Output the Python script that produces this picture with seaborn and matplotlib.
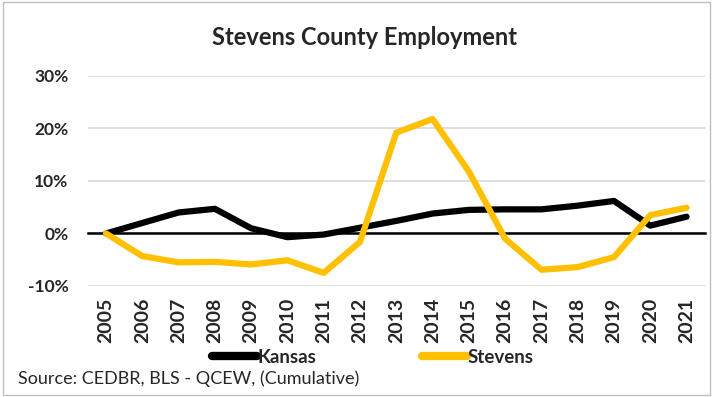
import pandas as pd
import matplotlib.pyplot as plt
import matplotlib.patches as patches
from matplotlib.ticker import MultipleLocator, FuncFormatter
import seaborn as sns

# Cumulative employment change (%)
years = list(range(2005, 2022))
kansas = [0.0, 2.0, 4.0, 4.7, 1.0, -0.7, -0.2, 1.1, 2.4, 3.8, 4.5, 4.6, 4.6, 5.3, 6.2, 1.5, 3.2]
stevens = [0.0, -4.3, -5.5, -5.4, -5.9, -5.1, -7.5, -1.6, 19.2, 21.8, 11.8, -1.0, -6.9, -6.4, -4.5, 3.5, 4.9]

df = pd.DataFrame({
    'Year': years * 2,
    'Change': kansas + stevens,
    'Area': ['Kansas'] * len(years) + ['Stevens'] * len(years),
})

sns.set_style('white')
plt.rcParams['font.family'] = ['Lato', 'DejaVu Sans']
BOLD = 'bold'

fig = plt.figure(figsize=(7.14, 3.97), dpi=100)
ax = fig.add_axes([0.123, 0.2796, 0.864, 0.529])

sns.lineplot(data=df, x='Year', y='Change', hue='Area',
             palette={'Kansas': '#000000', 'Stevens': '#FFC000'},
             linewidth=4.5, ax=ax, legend=False, zorder=3)

ax.set_xlim(years[0] - 0.5, years[-1] + 0.5)
ax.set_ylim(-10, 30)
ax.yaxis.set_major_locator(MultipleLocator(10))
ax.yaxis.set_major_formatter(FuncFormatter(lambda v, p: f'{v:.0f}%'))
ax.grid(axis='y', color='#d9d9d9', linewidth=1.2)
ax.set_axisbelow(True)

for s in ['top', 'right', 'left']:
    ax.spines[s].set_visible(False)
ax.spines['bottom'].set_position(('data', 0))
ax.spines['bottom'].set_color('black')
ax.spines['bottom'].set_linewidth(1.8)
ax.spines['bottom'].set_zorder(2)

ax.set_xticks(years)
ax.set_xticks([y - 0.5 for y in years] + [years[-1] + 0.5], minor=True)
ax.tick_params(axis='x', which='major', length=0, pad=46)
ax.tick_params(axis='x', which='minor', length=5, width=1.5, color='black', direction='out')
ax.tick_params(axis='y', length=0, pad=14)
ax.set_xticklabels([str(y) for y in years], rotation=90, fontweight=BOLD, fontsize=14)
for lbl in ax.get_yticklabels():
    lbl.set_fontweight(BOLD)
    lbl.set_fontsize(12.5)
ax.set_xlabel('')
ax.set_ylabel('')

fig.text(0.51, 0.905, 'Stevens County Employment', ha='center', va='center',
         fontsize=17, fontweight=BOLD)

handles = [plt.Line2D([], [], color='#000000', linewidth=6, solid_capstyle='round'),
           plt.Line2D([], [], color='#FFC000', linewidth=6, solid_capstyle='round')]
fig.legend(handles, ['Kansas', 'Stevens'], loc='center', bbox_to_anchor=(0.522, 0.1),
           ncol=2, frameon=False, handlelength=2.4, handletextpad=0.05,
           columnspacing=5.6, prop={'weight': BOLD, 'size': 13.5})

fig.text(0.025, 0.045, 'Source: CEDBR, BLS - QCEW, (Cumulative)', ha='left', va='center',
         fontsize=13)

fig.patches.append(patches.Rectangle((0.004, 0.004), 0.99, 0.99, transform=fig.transFigure,
                                     fill=False, edgecolor='#bfbfbf', linewidth=1))

fig.savefig('out.png', dpi=100)
